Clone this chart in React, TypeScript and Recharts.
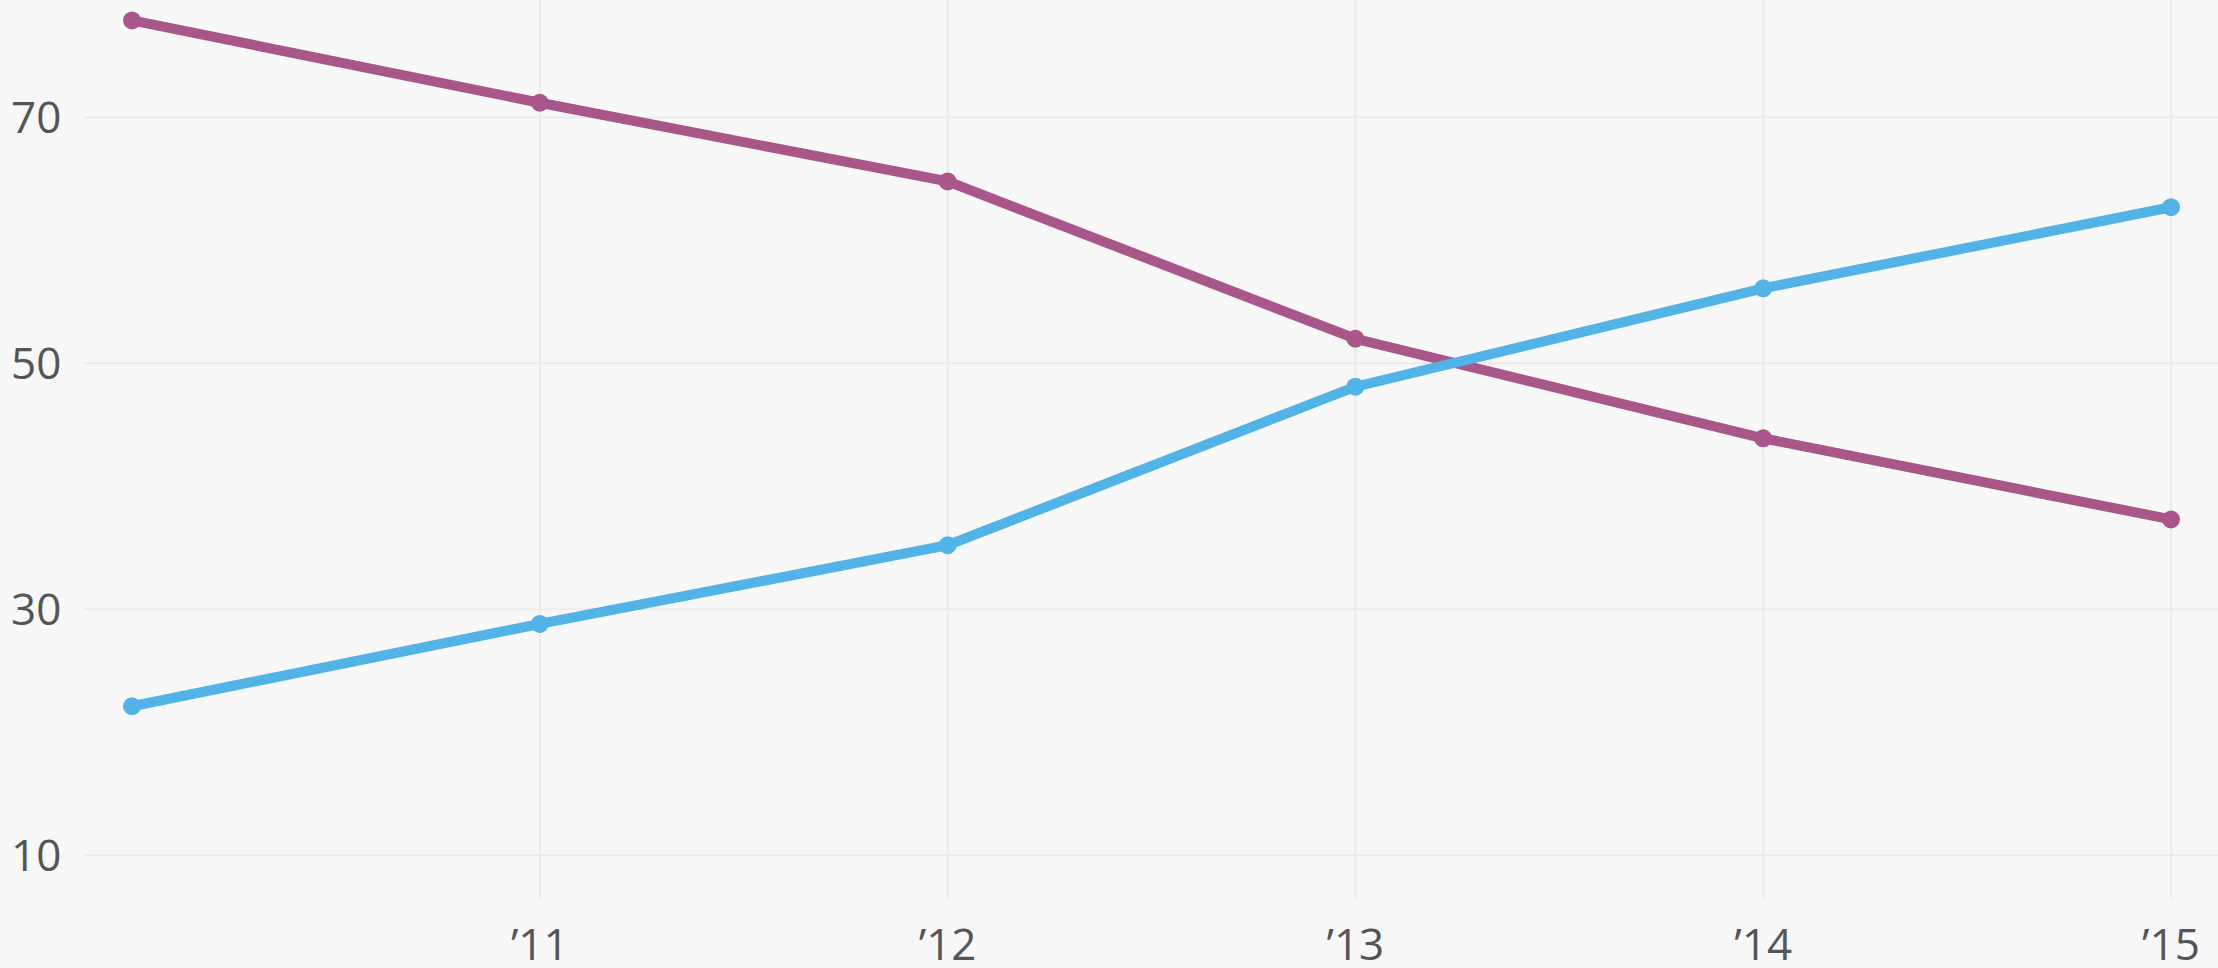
import { LineChart, Line, XAxis, YAxis, CartesianGrid } from "recharts";

const years = [2010, 2011, 2012, 2013, 2014, 2015];
const purpleSeries = [77.9, 71.2, 64.8, 52.0, 43.9, 37.3];
const blueSeries = [22.1, 28.8, 35.2, 48.1, 56.1, 62.7];
const xTicks = [2011, 2012, 2013, 2014, 2015];
const yTicks = [10, 30, 50, 70];

const data = years.map((year, i) => ({
  year,
  purple: purpleSeries[i],
  blue: blueSeries[i],
}));

const PURPLE = "#a9568a";
const BLUE = "#52b3e6";
const FONT = "'Open Sans', sans-serif";

const YTick = ({ y, payload }: any) => (
  <text
    x={11}
    y={y}
    dy="0.355em"
    textAnchor="start"
    fill="#555"
    fontSize={44}
    fontFamily={FONT}
  >
    {payload.value}
  </text>
);

export default function App() {
  return (
    <div
      style={{
        position: "absolute",
        left: 0,
        top: 0,
        width: 2218,
        height: 968,
        background: "#f8f8f8",
      }}
    >
      <LineChart
        width={2218}
        height={968}
        data={data}
        margin={{ top: 0, right: 0, bottom: 0, left: 0 }}
      >
        {/* syncWithTicks keeps the grid to tick lines only, no plot border */}
        <CartesianGrid stroke="#ececec" strokeWidth={2} syncWithTicks />
        <XAxis
          dataKey="year"
          type="number"
          domain={[2010, 2015]}
          ticks={xTicks}
          padding={{ left: 48, right: 47 }}
          axisLine={false}
          tickLine={false}
          tickSize={0}
          tickMargin={31}
          height={70}
          tickFormatter={(v: number) => "\u2019" + String(v).slice(2)}
          tick={{ fill: "#555", fontSize: 44, fontFamily: FONT }}
        />
        <YAxis
          type="number"
          domain={[6.5, 79.56]}
          allowDataOverflow
          ticks={yTicks}
          width={84}
          axisLine={false}
          tickLine={false}
          tick={<YTick />}
        />
        <Line
          dataKey="purple"
          stroke={PURPLE}
          strokeWidth={10}
          dot={{ r: 9, fill: PURPLE, stroke: PURPLE, strokeWidth: 0 }}
          activeDot={false}
          isAnimationActive={false}
        />
        <Line
          dataKey="blue"
          stroke={BLUE}
          strokeWidth={10}
          dot={{ r: 9, fill: BLUE, stroke: BLUE, strokeWidth: 0 }}
          activeDot={false}
          isAnimationActive={false}
        />
      </LineChart>
    </div>
  );
}
